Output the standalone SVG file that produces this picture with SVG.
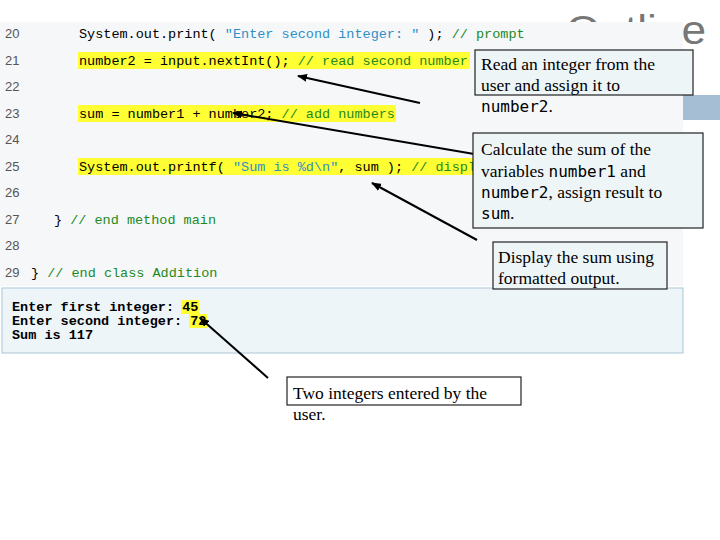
<svg xmlns="http://www.w3.org/2000/svg" width="720" height="540" viewBox="0 0 720 540">
<defs>
<marker id="ah" markerWidth="10" markerHeight="8" refX="9" refY="4" orient="auto" markerUnits="userSpaceOnUse"><path d="M0,0 L10,4 L0,8 Z" fill="#000"/></marker>
</defs>
<style>
.ln{font-family:"Liberation Sans",Arial,sans-serif;font-size:13px;fill:#555}
.c{font-family:"Liberation Mono","DejaVu Sans Mono",monospace;font-size:13.5px;fill:#000}
.s{fill:#2f8fc4}.g{fill:#1e8a1e}
.o{font-family:"Liberation Mono","DejaVu Sans Mono",monospace;font-size:13.5px;fill:#000;font-weight:bold}
.hl{fill:#ffff33}
.box{stroke:#222;stroke-width:1.2}
.t{font-family:"Liberation Serif","Times New Roman",serif;font-size:17.5px;fill:#000}
.m{font-family:"DejaVu Sans Mono",monospace;font-size:16px}
.ar{stroke:#000;stroke-width:2;fill:none;marker-end:url(#ah)}
</style>
<rect width="720" height="540" fill="#fff"/>
<text x="566" y="44" font-family="Liberation Sans,Arial,sans-serif" font-size="40" fill="#777" textLength="140" lengthAdjust="spacingAndGlyphs">Outline</text>
<rect x="0" y="22" width="683" height="264" fill="#f5f7f9"/>
<rect x="683" y="95" width="37" height="25" fill="#a5bed3"/>
<g id="code">
<rect class="hl" x="78" y="52" width="392" height="17"/>
<rect class="hl" x="78" y="105" width="318" height="17"/>
<rect class="hl" x="78" y="158" width="400" height="17"/>
<text class="ln" x="5" y="38">20</text><text class="ln" x="5" y="65">21</text><text class="ln" x="5" y="91">22</text><text class="ln" x="5" y="118">23</text><text class="ln" x="5" y="144">24</text><text class="ln" x="5" y="171">25</text><text class="ln" x="5" y="197">26</text><text class="ln" x="5" y="224">27</text><text class="ln" x="5" y="250">28</text><text class="ln" x="5" y="277">29</text>
<text class="c" x="79" y="38" xml:space="preserve">System.out.print( <tspan class="s">"Enter second integer: "</tspan> ); <tspan class="g">// prompt</tspan></text>
<text class="c" x="79" y="65" xml:space="preserve">number2 = input.nextInt(); <tspan class="g">// read second number</tspan></text>
<text class="c" x="79" y="118" xml:space="preserve">sum = number1 + number2; <tspan class="g">// add numbers</tspan></text>
<text class="c" x="79" y="171" xml:space="preserve">System.out.printf( <tspan class="s">"Sum is %d\n"</tspan>, sum ); <tspan class="g">// displ</tspan></text>
<text class="c" x="54" y="224" xml:space="preserve">} <tspan class="g">// end method main</tspan></text>
<text class="c" x="31" y="277" xml:space="preserve">} <tspan class="g">// end class Addition</tspan></text>
</g>
<g id="output">
<rect x="2" y="288" width="681" height="65" fill="#eef5f9" stroke="#a9c6d6"/>
<rect class="hl" x="181" y="300" width="18" height="14"/>
<rect class="hl" x="189" y="314" width="18" height="14"/>
<text class="o" x="12" y="311">Enter first integer: 45</text>
<text class="o" x="12" y="325">Enter second integer: 72</text>
<text class="o" x="12" y="339">Sum is 117</text>
</g>
<g id="connectors">
<line class="ar" x1="420" y1="103" x2="298" y2="76"/>
<line class="ar" x1="480" y1="155" x2="233" y2="113"/>
<line class="ar" x1="477" y1="240" x2="372" y2="183"/>
<line class="ar" x1="268" y1="378" x2="200" y2="318"/>
</g>
<g id="callout1">
<rect class="box" x="475" y="50" width="218" height="45" fill="#eef5f7"/>
<text class="t" x="481" y="70">Read an integer from the</text>
<text class="t" x="481" y="91">user and assign it to</text>
<text class="t" x="481" y="112"><tspan class="m">number2</tspan>.</text>
</g>
<g id="callout2">
<rect class="box" x="473" y="133" width="230" height="95" fill="#eef5f7"/>
<text class="t" x="481" y="155">Calculate the sum of the</text>
<text class="t" x="481" y="177">variables <tspan class="m">number1</tspan> and</text>
<text class="t" x="481" y="198"><tspan class="m">number2</tspan>, assign result to</text>
<text class="t" x="481" y="219"><tspan class="m">sum</tspan>.</text>
</g>
<g id="callout3">
<rect class="box" x="493" y="242" width="174" height="47" fill="#eef5f7"/>
<text class="t" x="498" y="263">Display the sum using</text>
<text class="t" x="498" y="284">formatted output.</text>
</g>
<g id="callout4">
<rect class="box" x="287" y="377" width="234" height="28" fill="#fff"/>
<text class="t" x="293" y="399">Two integers entered by the</text>
<text class="t" x="293" y="420">user.</text>
</g>
</svg>
